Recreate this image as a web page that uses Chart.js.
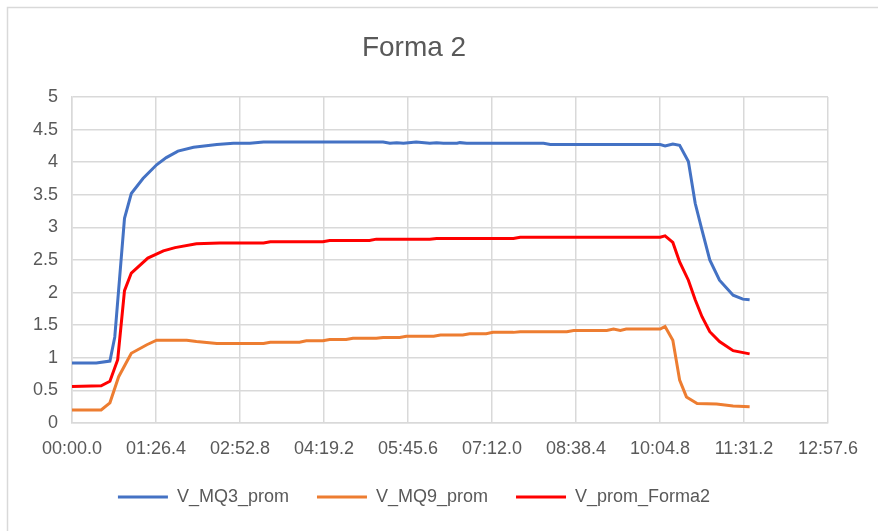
<!DOCTYPE html>
<html>
<head>
<meta charset="utf-8">
<script src="https://cdn.jsdelivr.net/npm/chart.js@4.4.1/dist/chart.umd.min.js"></script>
<style>
  body { margin: 0; background: #fff; }
</style>
</head>
<body>
<canvas id="myChart" width="878" height="531"></canvas>
<script>
// tiempos en segundos
const tMQ3 = [0, 25, 39, 44, 54, 61, 73, 87, 97, 109, 125, 149, 166, 183, 197, 320, 327, 334, 341, 354, 368, 375, 382, 396, 399, 406, 485, 492, 605, 610, 618, 625, 634, 641, 648, 656, 666, 680, 690, 697];
const vMQ3 = [0.92, 0.92, 0.95, 1.32, 3.14, 3.52, 3.75, 3.96, 4.07, 4.17, 4.23, 4.27, 4.29, 4.29, 4.31, 4.31, 4.29, 4.30, 4.29, 4.31, 4.29, 4.30, 4.29, 4.29, 4.30, 4.29, 4.29, 4.27, 4.27, 4.25, 4.28, 4.26, 4.01, 3.37, 2.96, 2.50, 2.19, 1.96, 1.90, 1.89];

const tMQ9 = [0, 30, 39, 48, 61, 77, 87, 118, 128, 149, 197, 204, 234, 241, 258, 265, 282, 289, 313, 320, 337, 344, 372, 379, 402, 409, 426, 433, 454, 461, 509, 516, 550, 557, 564, 570, 605, 610, 618, 625, 632, 643, 663, 680, 697];
const vMQ9 = [0.20, 0.20, 0.31, 0.71, 1.07, 1.20, 1.27, 1.27, 1.25, 1.22, 1.22, 1.24, 1.24, 1.26, 1.26, 1.28, 1.28, 1.30, 1.30, 1.31, 1.31, 1.33, 1.33, 1.35, 1.35, 1.37, 1.37, 1.39, 1.39, 1.40, 1.40, 1.42, 1.42, 1.44, 1.42, 1.44, 1.44, 1.48, 1.27, 0.66, 0.40, 0.30, 0.29, 0.26, 0.25];

const tForma2 = [0, 30, 39, 47, 54, 61, 78, 94, 106, 128, 152, 197, 204, 258, 265, 306, 313, 368, 375, 454, 461, 605, 610, 618, 625, 634, 641, 648, 656, 666, 680, 697];
const vForma2 = [0.56, 0.57, 0.64, 0.97, 2.03, 2.30, 2.53, 2.64, 2.69, 2.75, 2.76, 2.76, 2.78, 2.78, 2.80, 2.80, 2.82, 2.82, 2.83, 2.83, 2.85, 2.85, 2.87, 2.77, 2.47, 2.19, 1.89, 1.63, 1.40, 1.25, 1.11, 1.06];

const xTickLabels = ['00:00.0', '01:26.4', '02:52.8', '04:19.2', '05:45.6', '07:12.0', '08:38.4', '10:04.8', '11:31.2', '12:57.6'];

const toPoints = (ts, vs) => ts.map((t, i) => ({x: t, y: vs[i]}));

const gray = '#595959';
const gridColor = '#d9d9d9';
const font = 'Liberation Sans';

// fondo blanco y borde del area del grafico (como en Excel)
const frame = {
  id: 'frame',
  beforeDraw(chart) {
    const c = chart.ctx;
    c.save();
    c.fillStyle = '#fff';
    c.fillRect(0, 0, chart.width, chart.height);
    c.strokeStyle = '#d9d9d9';
    c.lineWidth = 1.5;
    c.strokeRect(7.5, 7.5, 1000, 1000);
    c.restore();
  }
};

const legendPad = 28;

let ctx = document.querySelector('#myChart');

let grafico = new Chart(ctx, {
  type: 'scatter',
  data: {
    datasets: [
      {
        label: 'V_MQ3_prom',
        data: toPoints(tMQ3, vMQ3),
        borderColor: '#4472C4',
        backgroundColor: '#4472C4',
      },
      {
        label: 'V_MQ9_prom',
        data: toPoints(tMQ9, vMQ9),
        borderColor: '#ED7D31',
        backgroundColor: '#ED7D31',
      },
      {
        label: 'V_prom_Forma2',
        data: toPoints(tForma2, vForma2),
        borderColor: '#FF0000',
        backgroundColor: '#FF0000',
      },
    ],
  },
  options: {
    responsive: false,
    animation: false,
    showLine: true,
    elements: {
      point: { radius: 0, hoverRadius: 0 },
      line: { borderWidth: 3, tension: 0 },
    },
    layout: { padding: { left: 0, right: 50, top: 0, bottom: 15 } },
    plugins: {
      title: {
        display: true,
        text: 'Forma 2',
        color: gray,
        font: { family: font, size: 28, weight: 'normal' },
        padding: { top: 31, bottom: 32.4 },
      },
      legend: {
        position: 'bottom',
        labels: {
          color: gray,
          font: { family: font, size: 18 },
          boxWidth: 50,
          boxHeight: 3,
          padding: legendPad,
          generateLabels(chart) {
            const items = Chart.defaults.plugins.legend.labels.generateLabels(chart);
            items.forEach(it => { it.lineWidth = 0; });
            return items;
          },
        },
      },
      tooltip: { enabled: false },
    },
    scales: {
      x: {
        type: 'linear',
        min: 0,
        max: 777.6,
        ticks: {
          stepSize: 86.4,
          color: gray,
          font: { family: font, size: 18 },
          padding: 15,
          maxRotation: 0,
          autoSkip: false,
          callback: (value, index) => xTickLabels[index],
        },
        grid: { color: gridColor, lineWidth: 1.5, drawTicks: false },
        border: { color: gridColor, width: 1.5 },
        afterFit(scale) { scale.height = 65 - legendPad; },
      },
      y: {
        min: 0,
        max: 5,
        ticks: {
          stepSize: 0.5,
          color: gray,
          font: { family: font, size: 18 },
          padding: 14,
          callback: value => value,
        },
        grid: { color: gridColor, lineWidth: 1.5, drawTicks: false },
        border: { color: gridColor, width: 1.5 },
        afterFit(scale) { scale.width = 72; },
      },
    },
  },
  plugins: [frame],
});
</script>
</body>
</html>
